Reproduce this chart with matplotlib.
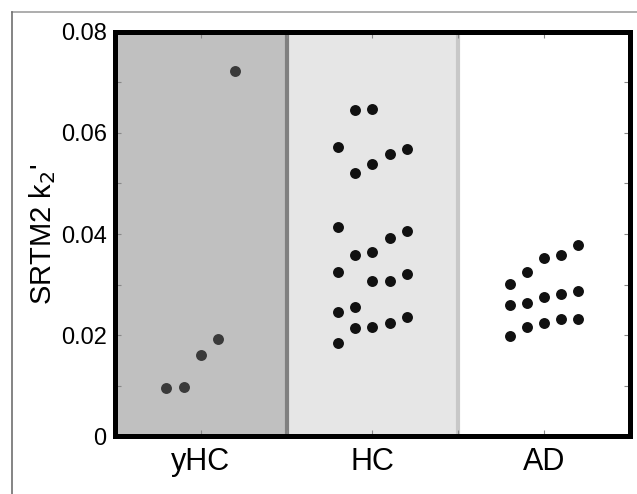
import numpy as np
import matplotlib
matplotlib.use('Agg')
import matplotlib.pyplot as plt
from matplotlib.lines import Line2D

plt.rcParams['font.family'] = ['Liberation Sans', 'DejaVu Sans']

groups = ['yHC', 'HC', 'AD']

# k2' values read per group, with the horizontal slot of each dot (-2..2)
yhc_vals = [0.0096, 0.0098, 0.0160, 0.0192, 0.0723]
yhc_slot = [-2, -1, 0, 1, 2]

hc_vals = [0.0646, 0.0648,
           0.0573, 0.0520, 0.0539, 0.0559, 0.0569,
           0.0413, 0.0359, 0.0364, 0.0392, 0.0406,
           0.0324, 0.0307, 0.0308, 0.0320,
           0.0245, 0.0256,
           0.0184, 0.0215, 0.0216, 0.0225, 0.0235]
hc_slot = [-1, 0,
           -2, -1, 0, 1, 2,
           -2, -1, 0, 1, 2,
           -2, 0, 1, 2,
           -2, -1,
           -2, -1, 0, 1, 2]

ad_vals = [0.0301, 0.0324, 0.0352, 0.0359, 0.0379,
           0.0259, 0.0264, 0.0276, 0.0281, 0.0287,
           0.0198, 0.0216, 0.0225, 0.0231, 0.0232]
ad_slot = [-2, -1, 0, 1, 2,
           -2, -1, 0, 1, 2,
           -2, -1, 0, 1, 2]

fig = plt.figure(figsize=(6.37, 4.94), dpi=100)
ax = fig.add_axes([115/637, 1 - 436.3/494, 514.7/637, 404.6/494])

# shaded group backgrounds
ax.axvspan(0.5, 1.5, color='#c0c0c0', zorder=0, lw=0)
ax.axvspan(1.5, 2.5, color='#e6e6e6', zorder=0, lw=0)
ax.axvline(1.5, color='#808080', lw=3, zorder=1)
ax.axvline(2.5, color='#c8c8c8', lw=3, zorder=1)

step = 0.1
ax.scatter(1 + np.array(yhc_slot) * step, yhc_vals, s=62, color='#3a3a3a', zorder=3, lw=0)
ax.scatter(2 + np.array(hc_slot) * step, hc_vals, s=62, color='#111111', zorder=3, lw=0)
ax.scatter(3 + np.array(ad_slot) * step, ad_vals, s=62, color='#111111', zorder=3, lw=0)

ax.set_xlim(0.5, 3.5)
ax.set_ylim(0, 0.08)
ax.set_xticks([1, 2, 3])
ax.set_xticklabels(groups, fontsize=22)
ax.set_xticks([1.5, 2.5], minor=True)
ax.set_yticks([0, 0.02, 0.04, 0.06, 0.08])
ax.set_yticklabels(['0', '0.02', '0.04', '0.06', '0.08'], fontsize=17)
ax.set_yticks([0.01, 0.03, 0.05, 0.07], minor=True)
ax.tick_params(which='both', direction='in', length=4, width=0.8, color='#888888',
               top=True, right=True)
ax.tick_params(axis='y', pad=6)
ax.tick_params(axis='x', pad=8)

ax.set_ylabel("SRTM2 k$_2$'", fontsize=21, labelpad=2)

for sp in ax.spines.values():
    sp.set_linewidth(3.6)
    sp.set_color('black')
    sp.set_zorder(5)

# outer frame lines of the panel
fig.add_artist(Line2D([12/637, 1], [1 - 12/494, 1 - 12/494], color='#a0a0a0', lw=1.2))
fig.add_artist(Line2D([12/637, 12/637], [0, 1 - 12/494], color='#707070', lw=1.2))

fig.savefig('out.png', dpi=100)
